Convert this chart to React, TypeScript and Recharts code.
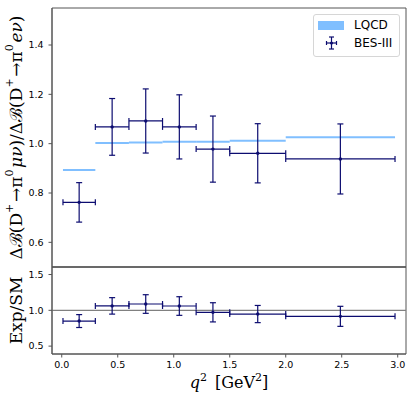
import {
  ScatterChart, Scatter, XAxis, YAxis, ErrorBar, ReferenceArea, ReferenceLine,
  Legend, Label
} from 'recharts';

// q^2 bins [GeV^2]
const binLow = [0.011, 0.3, 0.6, 0.9, 1.2, 1.5, 2.0];
const binHigh = [0.3, 0.6, 0.9, 1.2, 1.5, 2.0, 2.976];

// BES-III ratio of partial branching fractions (mu / e)
const besValue = [0.762, 1.068, 1.092, 1.068, 0.978, 0.961, 0.938];
const besError = [0.08, 0.115, 0.13, 0.13, 0.134, 0.12, 0.142];

// LQCD prediction per bin
const lqcdValue = [0.893, 1.003, 1.005, 1.008, 1.008, 1.012, 1.026];
const lqcdHalfWidth = [0.004, 0.004, 0.004, 0.004, 0.004, 0.004, 0.004];

// Exp/SM
const ratioValue = [0.85, 1.062, 1.088, 1.06, 0.972, 0.948, 0.916];
const ratioError = [0.09, 0.115, 0.13, 0.13, 0.134, 0.12, 0.14];

const xTicks = [0, 0.5, 1, 1.5, 2, 2.5, 3];
const topTicks = [0.6, 0.8, 1.0, 1.2, 1.4];
const bottomTicks = [0.5, 1.0, 1.5];

const NAVY = '#0c0c70';
const LQCD_BLUE = '#80bfff';
const FRAME = '#555';
const X_DOMAIN: [number, number] = [-0.087, 3.074];
const TOP_DOMAIN: [number, number] = [0.5, 1.55];
const BOTTOM_DOMAIN: [number, number] = [0.39, 1.605];

const tickStyle = { fontSize: 9.5, fill: '#000', fontFamily: 'DejaVu Sans' };
const mathFont = 'DejaVu Serif';

const besRows = binLow.map((lo, i) => ({
  x: (lo + binHigh[i]) / 2,
  y: besValue[i],
  xErr: (binHigh[i] - lo) / 2,
  yErr: besError[i],
}));

const ratioRows = binLow.map((lo, i) => ({
  x: (lo + binHigh[i]) / 2,
  y: ratioValue[i],
  xErr: (binHigh[i] - lo) / 2,
  yErr: ratioError[i],
}));

const Dot = (p: any) => <circle cx={p.cx} cy={p.cy} r={1.7} fill={NAVY} />;

const Sup = ({ children }: { children: string }) => (
  <>
    <tspan dy={-7} fontSize={11}>{children}</tspan>
    <tspan dy={7}>{'\u200a'}</tspan>
  </>
);

const TopYLabel = (props: any) => {
  const vb = props.viewBox;
  const cx = vb.x + 16;
  const cy = vb.y + vb.height / 2;
  return (
    <text x={cx} y={cy} transform={`rotate(-90 ${cx} ${cy})`} textAnchor="middle"
      dominantBaseline="central" fontFamily={mathFont} fontSize={17} fill="#000">
      <tspan>Δℬ(D</tspan><Sup>+</Sup><tspan>→π</tspan><Sup>0</Sup>
      <tspan fontStyle="italic">μν</tspan><tspan>)/Δℬ(D</tspan><Sup>+</Sup>
      <tspan>→π</tspan><Sup>0</Sup><tspan fontStyle="italic">eν</tspan><tspan>)</tspan>
    </text>
  );
};

const BottomYLabel = (props: any) => {
  const vb = props.viewBox;
  const cx = vb.x + 16;
  const cy = vb.y + vb.height / 2;
  return (
    <text x={cx} y={cy} transform={`rotate(-90 ${cx} ${cy})`} textAnchor="middle"
      dominantBaseline="central" fontFamily={mathFont} fontSize={17} fill="#000">
      Exp/SM
    </text>
  );
};

const XLabel = (props: any) => {
  const vb = props.viewBox;
  const cx = vb.x + vb.width / 2;
  return (
    <text x={cx} y={vb.y + 34} textAnchor="middle" fontFamily={mathFont} fontSize={16} fill="#000">
      <tspan fontStyle="italic">q</tspan><tspan dy={-7} fontSize={11}>2</tspan>
      <tspan dy={7}>{'\u2002'}[GeV</tspan><tspan dy={-7} fontSize={11}>2</tspan><tspan dy={7}>]</tspan>
    </text>
  );
};

const LegendBox = () => (
  <div style={{
    border: '1px solid #d6d6d6', borderRadius: 3, background: 'rgba(255,255,255,0.85)',
    padding: '1px 4px 4px 4px', fontFamily: 'DejaVu Sans', fontSize: 12, lineHeight: '18px',
    color: '#000', boxSizing: 'border-box', width: 87,
  }}>
    <div style={{ display: 'flex', alignItems: 'center', height: 18 }}>
      <span style={{ display: 'inline-block', width: 26, height: 9, background: LQCD_BLUE, marginRight: 10 }} />
      LQCD
    </div>
    <div style={{ display: 'flex', alignItems: 'center', height: 18 }}>
      <svg width={26} height={14} style={{ marginRight: 10 }}>
        <g stroke={NAVY} strokeWidth={1.2}>
          <line x1={13.5} y1={1} x2={13.5} y2={13} />
          <line x1={11} y1={1} x2={16} y2={1} />
          <line x1={11} y1={13} x2={16} y2={13} />
          <line x1={8.5} y1={7} x2={18.5} y2={7} />
          <line x1={8.5} y1={5} x2={8.5} y2={9} />
          <line x1={18.5} y1={5} x2={18.5} y2={9} />
        </g>
        <circle cx={13.5} cy={7} r={1.6} fill={NAVY} />
      </svg>
      BES-III
    </div>
  </div>
);

const TopPanel = () => (
  <ScatterChart width={415} height={270} margin={{ top: 8, right: 9, bottom: 0, left: 0 }}>
    <XAxis type="number" dataKey="x" domain={X_DOMAIN} ticks={xTicks} allowDataOverflow
      height={3} tick={false} tickSize={3.5} tickLine={{ stroke: FRAME }} axisLine={{ stroke: FRAME }} />
    <YAxis type="number" dataKey="y" domain={TOP_DOMAIN} ticks={topTicks} allowDataOverflow
      width={52} tick={tickStyle} tickSize={3.5} tickMargin={5}
      tickFormatter={(v: number) => v.toFixed(1)} tickLine={{ stroke: FRAME }} axisLine={{ stroke: FRAME }}>
      <Label content={TopYLabel} />
    </YAxis>
    <ReferenceArea x1={X_DOMAIN[0]} x2={X_DOMAIN[1]} y1={TOP_DOMAIN[0]} y2={TOP_DOMAIN[1]}
      fill="none" stroke={FRAME} strokeWidth={1} ifOverflow="visible" />
    {binLow.map((lo, i) => (
      <ReferenceArea key={i} x1={lo} x2={binHigh[i]}
        y1={lqcdValue[i] - lqcdHalfWidth[i]} y2={lqcdValue[i] + lqcdHalfWidth[i]}
        fill={LQCD_BLUE} fillOpacity={1} stroke="none" ifOverflow="visible" />
    ))}
    <Scatter name="BES-III" data={besRows} shape={Dot} isAnimationActive={false}>
      <ErrorBar dataKey="xErr" direction="x" width={3} stroke={NAVY} strokeWidth={1.2} />
      <ErrorBar dataKey="yErr" direction="y" width={3} stroke={NAVY} strokeWidth={1.2} />
    </Scatter>
    <Legend layout="horizontal" align="center" verticalAlign="middle"
      wrapperStyle={{ left: 313, top: 14, width: 87 }} content={LegendBox} />
  </ScatterChart>
);

const BottomPanel = () => (
  <ScatterChart width={415} height={137} margin={{ top: 5, right: 9, bottom: 0, left: 0 }}>
    <XAxis type="number" dataKey="x" domain={X_DOMAIN} ticks={xTicks} allowDataOverflow
      height={45} tick={tickStyle} tickSize={3.5} tickMargin={4}
      tickFormatter={(v: number) => v.toFixed(1)} tickLine={{ stroke: FRAME }} axisLine={{ stroke: FRAME }}>
      <Label content={XLabel} />
    </XAxis>
    <YAxis type="number" dataKey="y" domain={BOTTOM_DOMAIN} ticks={bottomTicks} allowDataOverflow
      width={52} tick={tickStyle} tickSize={3.5} tickMargin={5}
      tickFormatter={(v: number) => v.toFixed(1)} tickLine={{ stroke: FRAME }} axisLine={{ stroke: FRAME }}>
      <Label content={BottomYLabel} />
    </YAxis>
    <ReferenceArea x1={X_DOMAIN[0]} x2={X_DOMAIN[1]} y1={BOTTOM_DOMAIN[0]} y2={BOTTOM_DOMAIN[1]}
      fill="none" stroke={FRAME} strokeWidth={1} ifOverflow="visible" />
    <ReferenceLine y={1} stroke="#808080" strokeWidth={1.2} />
    <Scatter name="Exp/SM" data={ratioRows} shape={Dot} isAnimationActive={false}>
      <ErrorBar dataKey="xErr" direction="x" width={3} stroke={NAVY} strokeWidth={1.2} />
      <ErrorBar dataKey="yErr" direction="y" width={3} stroke={NAVY} strokeWidth={1.2} />
    </Scatter>
  </ScatterChart>
);

export default function App() {
  return (
    <div style={{ position: 'absolute', left: 0, top: 0, width: 415, height: 399, background: '#fff' }}>
      <div style={{ position: 'absolute', left: 0, top: 0 }}>
        <TopPanel />
      </div>
      <div style={{ position: 'absolute', left: 0, top: 262 }}>
        <BottomPanel />
      </div>
    </div>
  );
}
